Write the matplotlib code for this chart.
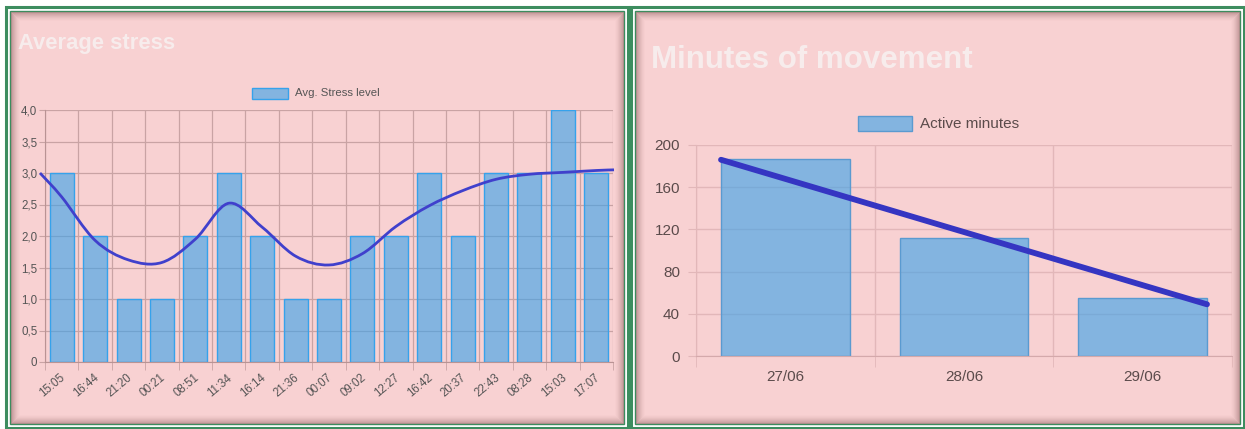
import matplotlib
matplotlib.use('Agg')
import matplotlib.pyplot as plt
from matplotlib.patches import Rectangle
from matplotlib.path import Path
from matplotlib.patches import PathPatch
import matplotlib.transforms as mtransforms
import numpy as np

plt.rcParams['font.family'] = ['Liberation Sans', 'DejaVu Sans']

# ---- data ----
stress_times = ['15:05', '16:44', '21:20', '00:21', '08:51', '11:34', '16:14', '21:36', '00:07',
                '09:02', '12:27', '16:42', '20:37', '22:43', '08:28', '15:03', '17:07']
stress_levels = [3, 2, 1, 1, 2, 3, 2, 1, 1, 2, 2, 3, 2, 3, 3, 4, 3]
# smoothed trend (x = category position)
stress_trend_x = [-0.65, 0, 1, 2, 3, 4, 5, 6, 7, 8, 9, 10, 11, 12, 13, 14, 15, 16, 16.53]
stress_trend_y = [3.0, 2.62, 1.93, 1.62, 1.58, 1.95, 2.52, 2.14, 1.68, 1.54, 1.72, 2.15, 2.48,
                  2.72, 2.90, 2.98, 3.01, 3.04, 3.05]

move_days = ['27/06', '28/06', '29/06']
move_minutes = [187, 112, 55]
move_trend_x = [-0.36, 2.36]
move_trend_y = [186, 49]

W, H = 1245, 429
PINK = '#f8d1d2'
GREEN = '#3d8d5f'
BAR_FILL = (54 / 255, 162 / 255, 235 / 255, 0.6)
BAR_EDGE = (54 / 255, 162 / 255, 235 / 255, 1.0)


def px_rect(x0, y0, x1, y1):
    # pixel box (top-left origin) -> figure fractions
    return [x0 / W, 1 - y1 / H, (x1 - x0) / W, (y1 - y0) / H]


def smooth_path(xs, ys):
    verts = [(xs[0], ys[0])]
    codes = [Path.MOVETO]
    n = len(xs)
    for i in range(n - 1):
        i0 = max(i - 1, 0)
        i3 = min(i + 2, n - 1)
        c1 = (xs[i] + (xs[i + 1] - xs[i0]) / 6, ys[i] + (ys[i + 1] - ys[i0]) / 6)
        c2 = (xs[i + 1] - (xs[i3] - xs[i]) / 6, ys[i + 1] - (ys[i3] - ys[i]) / 6)
        verts += [c1, c2, (xs[i + 1], ys[i + 1])]
        codes += [Path.CURVE4] * 3
    return Path(verts, codes)


fig = plt.figure(figsize=(W / 100, H / 100), dpi=100)
fig.patch.set_facecolor('white')

# background panels
bg = fig.add_axes([0, 0, 1, 1])
bg.set_xlim(0, W)
bg.set_ylim(H, 0)
bg.axis('off')

for (x0, y0, x1, y1) in [(6, 7, 628, 428), (631, 7, 1244, 428)]:
    bg.add_patch(Rectangle((x0, y0), x1 - x0, y1 - y0, facecolor='white', edgecolor=GREEN, lw=2.2))
    bg.add_patch(Rectangle((x0 + 4, y0 + 4), x1 - x0 - 8, y1 - y0 - 8, facecolor=PINK,
                           edgecolor=GREEN, lw=1.0))
    # inner shadow
    for i in range(9):
        a = 0.32 * (1 - i / 9) ** 1.5
        bg.add_patch(Rectangle((x0 + 5 + i, y0 + 5 + i), x1 - x0 - 10 - 2 * i, y1 - y0 - 10 - 2 * i,
                               facecolor='none', edgecolor=(0.35, 0.15, 0.15, a), lw=0.75))

# titles
bg.text(18, 49, 'Average stress', fontsize=15.8, fontweight='bold', color='#f7ecec', va='baseline')
bg.text(651, 68, 'Minutes of movement', fontsize=22.5, fontweight='bold', color='#f7ecec',
        va='baseline')

# legends
bg.add_patch(Rectangle((252, 88), 36, 11, facecolor=BAR_FILL, edgecolor=BAR_EDGE, lw=1))
bg.text(295, 93.5, 'Avg. Stress level', fontsize=8.2, color='#555555', va='center')
bg.add_patch(Rectangle((858, 116), 54, 15, facecolor=BAR_FILL, edgecolor='#5a9ad0', lw=1))
bg.text(920, 123.5, 'Active minutes', fontsize=11, color='#5b4b4b', va='center')

# ---- left chart ----
ax1 = fig.add_axes(px_rect(45, 110, 613, 362))
ax1.set_facecolor('none')
n = len(stress_levels)
x = np.arange(n)
ax1.set_axisbelow(True)
ax1.bar(x, stress_levels, width=0.72, color=BAR_FILL, edgecolor=BAR_EDGE, lw=1, zorder=2)
ax1.add_patch(PathPatch(smooth_path(stress_trend_x, stress_trend_y), facecolor='none',
                        edgecolor='#4040cc', lw=2.0, clip_on=False, zorder=4))
ax1.set_xlim(-0.5, n - 0.5)
ax1.set_ylim(0, 4)
ax1.set_yticks(np.arange(0, 4.01, 0.5))
ax1.set_yticklabels(['0'] + [f'{v:.1f}'.replace('.', ',') for v in np.arange(0.5, 4.01, 0.5)])
ax1.set_xticks(x)
ax1.set_xticklabels(stress_times, rotation=40, ha='right')
ax1.set_xticks(np.arange(-0.5, n, 1), minor=True)
gcol1 = '#c9a3a4'
ax1.grid(True, axis='y', color=gcol1, lw=0.9)
ax1.grid(True, axis='x', which='minor', color=gcol1, lw=0.9)
ax1.tick_params(axis='y', length=4, color=gcol1, pad=1.5, labelsize=8.3, labelcolor='#555555')
ax1.tick_params(axis='x', which='major', length=0, pad=7, labelsize=8.3, labelcolor='#555555')
ax1.tick_params(axis='x', which='minor', length=6, color=gcol1)
for s in ax1.spines.values():
    s.set_visible(False)
ax1.spines['left'].set_visible(True)
ax1.spines['bottom'].set_visible(True)
ax1.spines['left'].set_color('#b99394')
ax1.spines['bottom'].set_color('#b99394')
off = mtransforms.ScaledTranslation(6 / 100, 0, fig.dpi_scale_trans)
for lab in ax1.get_xticklabels():
    lab.set_transform(lab.get_transform() + off)

# ---- right chart ----
ax2 = fig.add_axes(px_rect(696, 145, 1232, 356))
ax2.set_facecolor('none')
m = len(move_minutes)
x2 = np.arange(m)
ax2.set_axisbelow(True)
ax2.bar(x2, move_minutes, width=0.72, color=BAR_FILL, edgecolor='#5a9ad0', lw=1, zorder=2)
ax2.plot(move_trend_x, move_trend_y, color='#3535c2', lw=4.2, solid_capstyle='round',
         clip_on=False, zorder=4)
ax2.set_xlim(-0.5, m - 0.5)
ax2.set_ylim(0, 200)
ax2.set_yticks(np.arange(0, 201, 40))
ax2.set_xticks(x2)
ax2.set_xticklabels(move_days)
ax2.set_xticks(np.arange(-0.5, m, 1), minor=True)
gcol2 = '#e2b7b9'
ax2.grid(True, axis='y', color=gcol2, lw=1)
ax2.grid(True, axis='x', which='minor', color=gcol2, lw=1)
ax2.tick_params(axis='y', length=6, color=gcol2, pad=5.5, labelsize=11, labelcolor='#5b4b4b')
ax2.tick_params(axis='x', which='major', length=0, pad=10, labelsize=11, labelcolor='#5b4b4b')
ax2.tick_params(axis='x', which='minor', length=8, color=gcol2)
for s in ax2.spines.values():
    s.set_visible(False)
ax2.spines['left'].set_visible(True)
ax2.spines['bottom'].set_visible(True)
ax2.spines['left'].set_color(gcol2)
ax2.spines['bottom'].set_color('#d4a9ab')

fig.savefig('out.png', dpi=100, facecolor=fig.get_facecolor())
